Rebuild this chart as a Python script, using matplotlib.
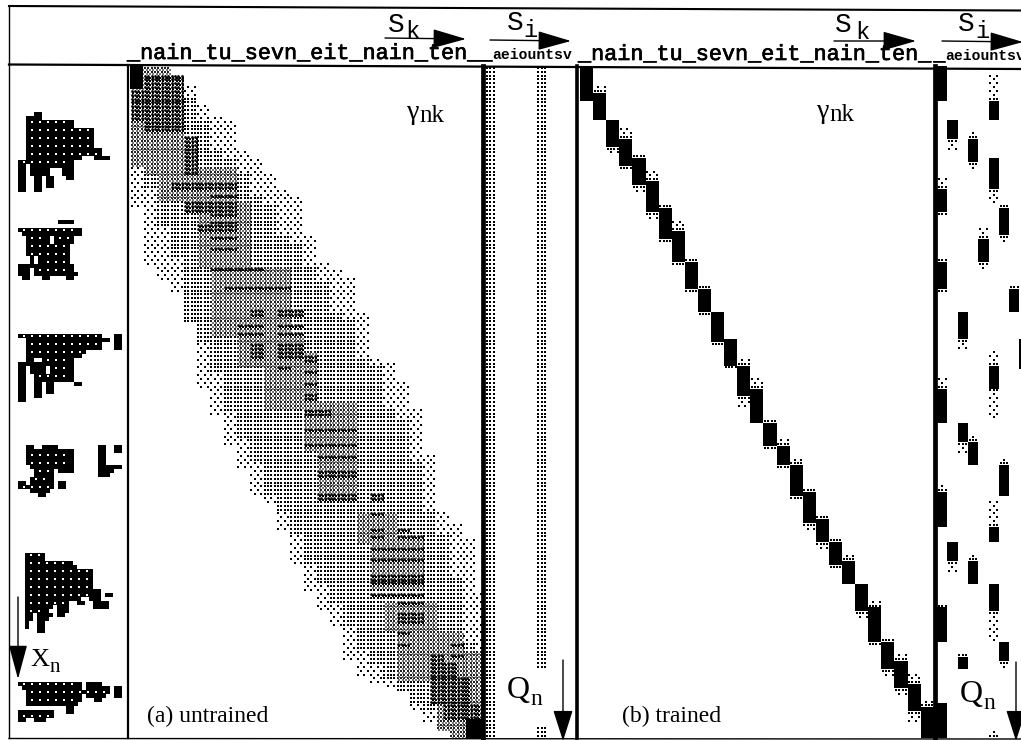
import matplotlib

matplotlib.use('Agg')

import numpy as np
import matplotlib.pyplot as plt
import matplotlib.patheffects as pe

W, H = 1021, 740
N_FRAMES = 175
N_STATES = 27

word_states = "_nain_tu_sevn_eit_nain_ten_"
vowel_states = "aeiountsv"

# untrained gamma: per state k, first/last frame of each density level
outer_top = [0, 0, 0, 2, 5, 10, 13, 14, 22, 24, 28, 32, 34, 44, 51, 53, 55, 64, 76, 77, 82, 89, 101, 116, 119, 123, 137]
outer_bottom = [37, 52, 56, 59, 67, 84, 91, 99, 105, 112, 114, 121, 130, 137, 142, 146, 155, 159, 161, 162, 163, 168, 171, 173, 175, 175, 175]
grid_top = [0, 0, 0, 2, 8, 14, 22, 24, 28, 34, 36, 44, 46, 52, 56, 64, 66, 76, 78, 89, 92, 103, 116, 122, 133, 150, 160]
grid_bottom = [24, 32, 42, 50, 67, 72, 80, 90, 97, 103, 112, 116, 122, 130, 135, 140, 146, 152, 156, 160, 163, 166, 168, 170, 175, 175, 175]

# (k0, k1, f0, f1)
grey_regions = [
    (0, 4, 0, 26), (1, 5, 18, 28), (2, 8, 26, 35), (5, 9, 35, 52), (6, 12, 52, 70),
    (8, 13, 70, 78), (10, 14, 74, 89), (13, 17, 87, 100), (14, 17, 100, 113),
    (17, 20, 116, 124), (18, 22, 123, 136), (19, 23, 139, 147), (20, 25, 147, 160),
    (23, 27, 152, 175),
]
dark_regions = [
    (1, 4, 2, 17), (0, 1, 6, 14), (4, 5, 18, 28), (3, 8, 30, 32),
    (6, 8, 33, 34), (6, 8, 35, 36), (6, 8, 38, 39), (6, 8, 40, 42),
    (4, 8, 35, 38), (5, 8, 41, 43), (6, 8, 44, 45), (6, 8, 47, 48), (6, 10, 52, 53),
    (7, 10, 57, 58), (10, 12, 57, 58), (9, 10, 63, 65), (11, 13, 63, 65),
    (8, 10, 67, 68), (11, 13, 67, 68), (8, 10, 69, 70), (11, 13, 69, 70),
    (9, 10, 72, 76), (11, 13, 72, 76), (11, 12, 78, 79),
    (13, 14, 75, 77), (13, 14, 79, 80), (13, 14, 82, 83), (13, 14, 85, 87),
    (13, 15, 89, 91), (13, 17, 94, 95), (13, 17, 98, 99), (14, 17, 101, 102),
    (14, 17, 105, 107), (14, 17, 111, 113), (18, 19, 111, 113),
    (18, 19, 116, 117), (18, 19, 120, 121), (20, 21, 120, 121), (18, 19, 122, 123), (20, 22, 122, 123),
    (18, 22, 125, 126), (18, 22, 128, 129), (18, 22, 132, 135), (18, 22, 137, 138),
    (20, 22, 139, 140), (20, 22, 142, 145), (20, 21, 147, 148), (20, 21, 150, 151),
    (24, 25, 150, 151), (24, 25, 153, 154),
    (22.5, 23.5, 153, 156), (22.5, 24.5, 155, 166), (24.5, 25.5, 159, 166), (23.5, 26.5, 166, 170),
]
black_regions = [(0, 1, 0, 6), (25.25, 27, 170, 175)]

# trained gamma: one block per state
path_start = [0, 7, 14, 19, 24, 30, 37, 43, 51, 58, 64, 71, 78, 84, 93, 99, 104, 111, 118, 124, 129, 135, 141, 150, 155, 161, 167]
path_end = [9, 14, 21, 26, 31, 38, 45, 51, 58, 64, 72, 78, 86, 93, 99, 104, 112, 119, 124, 130, 135, 142, 150, 157, 162, 168, 175]
path_before = [0, 2, 0, 3, 1, 3, 1, 3, 1, 1, 0, 0, 2, 3, 1, 2, 2, 1, 1, 1, 2, 0, 2, 1, 2, 3, 2]
path_after = [0, 0, 2, 1, 2, 2, 1, 1, 1, 1, 1, 1, 3, 0, 1, 1, 1, 2, 2, 1, 0, 2, 1, 2, 2, 3, 0]

# trained Q_n: state index into vowel_states, frames, fuzzy rows around it
q_state = [0, 0, 0, 0, 0, 0, 0, 1, 1, 2, 2, 2, 3, 3, 3, 4, 5, 5, 5, 5, 5, 5, 6, 6, 6, 7, 8]
q_start = [0, 32, 51, 84, 111, 141, 166, 14, 124, 64, 93, 154, 19, 98, 129, 45, 9, 24, 78, 120, 135, 175, 37, 104, 150, 58, 71]
q_end = [9, 38, 58, 93, 120, 150, 175, 19, 129, 71, 98, 157, 25, 104, 135, 51, 14, 32, 84, 124, 142, 175, 44, 112, 155, 64, 79]
q_before = [0, 3, 1, 3, 2, 1, 0, 0, 0, 0, 0, 1, 2, 2, 2, 3, 7, 0, 4, 7, 0, 2, 1, 2, 0, 1, 0]
q_after = [0, 1, 1, 0, 0, 0, 0, 3, 3, 3, 3, 0, 2, 0, 0, 2, 0, 4, 8, 0, 8, 0, 2, 0, 2, 0, 0]

# untrained Q_n: state index and frame ranges of the dotted columns
q0_state = [0, 5, 5]
q0_start = [0, 0, 172]
q0_end = [175, 157, 175]

# speech input X_n: per row, list of (first col, last col)
blob_left = [0, 0, 0, 0, 1.75, 0]
blob_top = [11.5, 38.5, 67, 94.75, 121.75, 154]
blobs = [
    [[(4, 5)], [(2, 5)], [(2, 13)], [(2, 13)], [(2, 18)], [(2, 18)], [(2, 18)], [(2, 18)], [(2, 18)],
     [(2, 20)], [(2, 20)], [(2, 15), (19, 22)], [(0, 13)], [(0, 1), (3, 5), (6, 13)],
     [(0, 1), (3, 5), (6, 7), (11, 13)], [(0, 1), (3, 5), (6, 7), (11, 13)], [(0, 1), (4, 5), (7, 8), (12, 13)],
     [(0, 1), (4, 5), (7, 8)], [(0, 1), (4, 5), (7, 8)], [(0, 1), (4, 5)]],
    [[(10, 13)], [], [(0, 15)], [(1, 15)], [(2, 7), (9, 13)], [(2, 7), (9, 13)], [(2, 12)], [(2, 12)], [(2, 12)],
     [(3, 3), (5, 5), (6, 12)], [(3, 3), (5, 5), (6, 12)], [(0, 13)], [(0, 2), (4, 13)], [(0, 2), (4, 14)],
     [(1, 2), (6, 7), (12, 13)]],
    [[(0, 20), (24, 25)], [(2, 22), (24, 25)], [(2, 20), (24, 25)], [(2, 20), (24, 25)], [(2, 16)], [(2, 15)],
     [(2, 3), (6, 13)], [(0, 13)], [(0, 1), (3, 6), (8, 13)], [(0, 1), (3, 6), (8, 13)], [(0, 1), (4, 13)], [(0, 1), (4, 13)],
     [(0, 1), (4, 5), (7, 8), (14, 15)], [(0, 1), (4, 5), (7, 8)], [(0, 1), (4, 5), (7, 8)], [(0, 1), (4, 5)], [(0, 1)]],
    [[(2, 3), (6, 9), (20, 21), (24, 25)], [(2, 13), (20, 21), (24, 25)], [(2, 13), (20, 21)], [(2, 13), (20, 21)], [(2, 13), (20, 21)],
     [(3, 13), (20, 25)], [(4, 8), (10, 13), (20, 23)], [(4, 8), (20, 22)], [(3, 8)], [(0, 1), (3, 8), (10, 11)],
     [(0, 8), (10, 11)], [(3, 7)], [(5, 6)]],
    [[(0, 4)], [(0, 4)], [(0, 11)], [(0, 12)], [(0, 16)], [(0, 16)], [(0, 16)], [(0, 16)], [(0, 16)], [(0, 18)],
     [(0, 16), (17, 18), (20, 21)], [(0, 13), (16, 18)], [(0, 10), (13, 14), (17, 20)], [(0, 6), (8, 10), (17, 20)],
     [(0, 5), (8, 10)], [(0, 1), (3, 6), (8, 9)], [(0, 1), (3, 5)], [(0, 0), (3, 4)], [(0, 0), (3, 4)], [(3, 4)]],
    [[(0, 15), (17, 20)], [(1, 15), (17, 22), (24, 25)], [(2, 22), (24, 25)], [(2, 15), (17, 21), (24, 25)], [(2, 15), (19, 20)],
     [(2, 14)], [(12, 13)], [(0, 8), (12, 13)], [(0, 8)], [(0, 1), (4, 6)]],
]


def px_axes(fig, x0, x1, y0, y1):
    ax = fig.add_axes([x0 / W, 1 - y1 / H, (x1 - x0) / W, (y1 - y0) / H])
    ax.patch.set_alpha(0)
    ax.axis('off')
    return ax


def draw_untrained(ax):
    cols = N_STATES * 4
    level = np.zeros((N_FRAMES, cols), dtype=int)
    for k in range(N_STATES):
        level[outer_top[k]:outer_bottom[k], k * 4:(k + 1) * 4] = 1
        level[grid_top[k]:grid_bottom[k], k * 4:(k + 1) * 4] = 2
    for value, regions in ((3, grey_regions), (4, dark_regions)):
        for k0, k1, f0, f1 in regions:
            patch = level[f0:f1, int(k0 * 4):int(k1 * 4)]
            patch[patch > 0] = value
    rows, columns = np.indices(level.shape)
    x = (columns + 0.5) / 4
    y = rows + 0.5

    checker = (level == 1) & ((rows + columns) % 2 == 0)
    ax.scatter(x[checker], y[checker], s=3.0, marker='s', c='k', lw=0)
    ax.scatter(x[level == 2], y[level == 2], s=2.8, marker='s', c='k', lw=0)
    mask = level == 3
    ax.scatter(x[mask], y[mask], s=1.9, marker='s', c='#222222', lw=0)
    ax.scatter(x[mask] + 0.125, y[mask] + 0.5, s=0.7, marker='s', c='#777777', lw=0)
    mask = level == 4
    ax.scatter(x[mask], y[mask], s=4.0, marker='o', c='k', lw=0)
    ax.scatter(x[mask] + 0.125, y[mask] + 0.5, s=1.5, marker='s', c='k', lw=0)
    for k0, k1, f0, f1 in black_regions:
        ax.broken_barh([(k0, k1 - k0)], (f0, f1 - f0), color='k', lw=0)


def fuzzy_rows(ax, left, width, start, end, before, after, n_dots):
    # sparse dots just outside a solid block
    offsets = (np.arange(n_dots) + 0.5) / n_dots * width
    for i in range(before):
        row = start - i - 0.5
        step = 1 if i == 0 else 2
        xs = left + offsets[(i % 2)::step]
        ax.scatter(xs, np.full(len(xs), row), s=3, marker='s', c='k', lw=0)
    for i in range(after):
        row = end + i + 0.5
        step = 1 if i == 0 else 2
        xs = left + offsets[(i % 2)::step]
        ax.scatter(xs, np.full(len(xs), row), s=3, marker='s', c='k', lw=0)


def draw_trained(ax):
    for k in range(N_STATES):
        ax.broken_barh([(k, 1)], (path_start[k], path_end[k] - path_start[k]), color='k', lw=0)
        fuzzy_rows(ax, k, 1, path_start[k], path_end[k], path_before[k], path_after[k], 4)


def draw_q_untrained(ax):
    for state, start, end in zip(q0_state, q0_start, q0_end):
        xs = state + (np.arange(3) + 0.5) / 3
        rows = np.arange(start, end) + 0.5
        gx, gy = np.meshgrid(xs, rows)
        ax.scatter(gx.ravel(), gy.ravel(), s=3.2, marker='s', c='k', lw=0)


def draw_q_trained(ax):
    for i in range(len(q_state)):
        state = q_state[i]
        ax.broken_barh([(state, 1)], (q_start[i], q_end[i] - q_start[i]), color='k', lw=0)
        fuzzy_rows(ax, state, 1, q_start[i], q_end[i], q_before[i], q_after[i], 3)


def draw_spectrogram(ax):
    for left, top, blob in zip(blob_left, blob_top, blobs):
        for r, spans in enumerate(blob):
            bars = [(left + c0, c1 - c0 + 1) for c0, c1 in spans]
            if bars:
                ax.broken_barh(bars, (top + r, 1), color='k', lw=0)
            for c0, c1 in spans:
                if c1 - c0 > 3 and r % 2 == 0:
                    xs = left + np.arange(c0 + 1, c1, 2) + 0.5
                    ax.scatter(xs, np.full(len(xs), top + r + 0.5), s=0.7, marker='s', c='w', lw=0)


def arrow(ax, x0, y0, x1, y1, head_len, head_w):
    ax.annotate('', xy=(x1, y1), xytext=(x0, y0), annotation_clip=False,
                arrowprops=dict(arrowstyle='-|>,head_length=%.2f,head_width=%.2f' % (head_len, head_w),
                                lw=1.0, color='k', shrinkA=0, shrinkB=0, mutation_scale=10))


def main():
    fig = plt.figure(figsize=(W / 100, H / 100), dpi=100)
    fig.patch.set_facecolor('w')

    panels = [
        (px_axes(fig, 18, 126, 66, 738), (0, 27), (168, 0), draw_spectrogram),
        (px_axes(fig, 130, 130 + 26.5 * 13.3, 66, 738), (0, 26.5), (N_FRAMES, 0), draw_untrained),
        (px_axes(fig, 485, 485 + 9 * 10.3, 66, 738), (0, 9), (N_FRAMES, 0), draw_q_untrained),
        (px_axes(fig, 580, 580 + 27 * 13.1, 66, 738), (0, 27), (N_FRAMES, 0), draw_trained),
        (px_axes(fig, 937, 937 + 9 * 10.3, 66, 738), (0, 9), (N_FRAMES, 0), draw_q_trained),
    ]
    for ax, xlim, ylim, draw in panels:
        draw(ax)
        ax.set_xlim(xlim)
        ax.set_ylim(ylim)

    page = px_axes(fig, 0, W, 0, H)
    page.set_xlim(0, W)
    page.set_ylim(H, 0)

    # frame lines, the scan is slightly skewed
    page.plot([9, 1021], [6, 10.5], color='k', lw=1.5)
    page.plot([9, 1021], [64.5, 69], color='k', lw=1.6)
    page.plot([9, 9], [6, 738], color='k', lw=1.0)
    page.plot([9, 1021], [738.5, 739], color='k', lw=1.0)
    page.plot([128, 128], [65, 738], color='k', lw=1.6)
    page.plot([482.5, 482.5], [66, 738], color='k', lw=3.4)
    page.plot([577, 577], [66, 738], color='k', lw=2.6)
    page.plot([934.5, 934.5], [66, 738], color='k', lw=3.4)

    bold_edge = [pe.withStroke(linewidth=0.5, foreground='k')]
    plain = dict(family='Liberation Mono', va='baseline', ha='left', color='k')
    mono = dict(plain, path_effects=bold_edge)
    serif = dict(family='Liberation Serif', va='baseline', ha='left', color='k')
    gamma = dict(family=['Liberation Serif', 'DejaVu Serif'], va='baseline', ha='left', color='k')

    page.text(127, 59, word_states, fontsize=15.7, **mono)
    page.text(480.5, 59, "_", fontsize=14, **mono)
    page.text(492.5, 59, vowel_states, fontsize=10.6, fontweight='bold', **plain)
    page.text(578, 60, word_states, fontsize=15.7, **mono)
    page.text(933, 60, "_", fontsize=14, **mono)
    page.text(945, 60, vowel_states, fontsize=10.6, fontweight='bold', **plain)

    page.text(388, 32, "S", fontsize=20, **plain)
    page.text(405, 38, "k", fontsize=17, **plain)
    page.text(507, 30, "S", fontsize=20, **plain)
    page.text(523, 37, "i", fontsize=17, **plain)
    page.text(835, 32, "S", fontsize=20, **plain)
    page.text(855, 39, "k", fontsize=17, **plain)
    page.text(958, 31, "S", fontsize=20, **plain)
    page.text(975, 38, "i", fontsize=17, **plain)

    arrow(page, 385, 38, 466, 39, 2.1, 0.6)
    arrow(page, 490, 40, 571, 41, 2.1, 0.6)
    arrow(page, 834, 41, 916, 41, 2.1, 0.6)
    arrow(page, 942, 41, 1023, 42, 2.1, 0.6)

    page.text(407, 119, "\u03b3", fontsize=20, **gamma)
    page.text(419, 122, "nk", fontsize=18, **serif)
    page.text(817, 118, "\u03b3", fontsize=20, **gamma)
    page.text(829, 121, "nk", fontsize=18, **serif)

    page.text(147, 722, "(a) untrained", fontsize=17, **serif)
    page.text(622, 722, "(b) trained", fontsize=17, **serif)

    page.text(30, 666, "X", fontsize=19, **serif)
    page.text(50, 672, "n", fontsize=15, **serif)
    arrow(page, 18, 597, 18, 679, 2.15, 0.58)

    page.text(507, 698, "Q", fontsize=23, **serif)
    page.text(530, 705, "n", fontsize=17, **serif)
    arrow(page, 563, 660, 563, 741, 1.95, 0.62)
    page.text(960, 702, "Q", fontsize=23, **serif)
    page.text(983, 709, "n", fontsize=17, **serif)
    arrow(page, 1016, 662, 1016, 741, 1.95, 0.62)

    fig.savefig('out.png', dpi=100)
    plt.close(fig)


if __name__ == "__main__":
    main()
